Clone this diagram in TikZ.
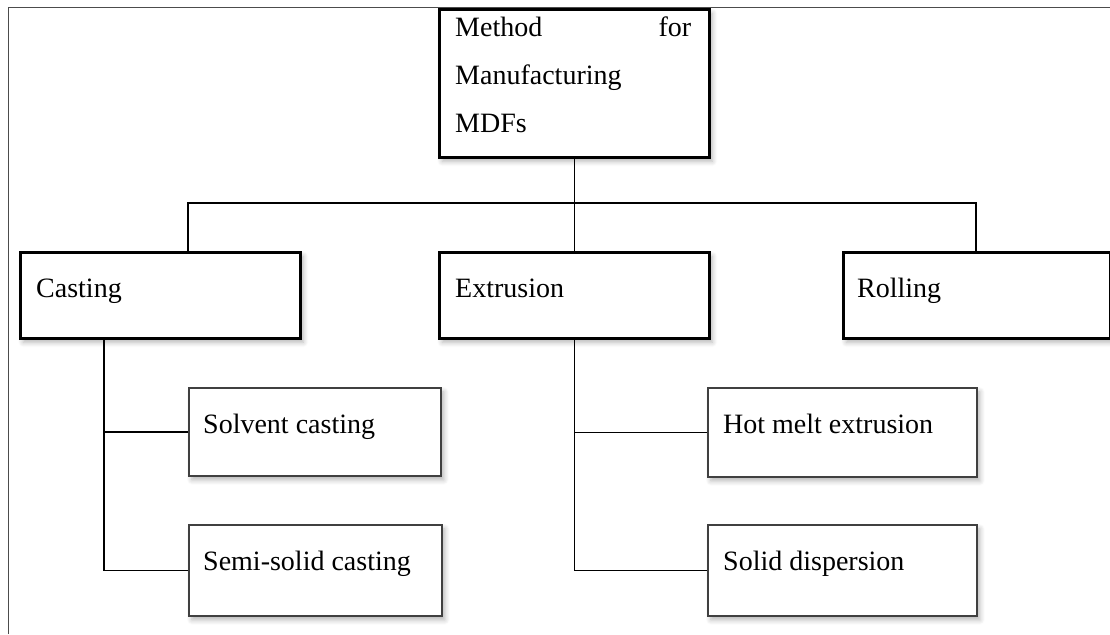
\documentclass[tikz,border=0pt]{standalone}
\usepackage{fontspec}
\setmainfont{Liberation Serif}
\usetikzlibrary{positioning,shadows.blur}

\begin{document}
\begin{tikzpicture}[
      x=1pt, y=-1pt,
      shade/.style={blur shadow={shadow xshift=3pt,shadow yshift=-4pt,shadow blur radius=5pt,shadow blur steps=6,shadow opacity=30}},
      mainbox/.style={draw=black,line width=2.6pt,fill=white,inner sep=0pt,anchor=north west,minimum height=86pt,minimum width=#1,shade},
      subbox/.style={draw=black!75,line width=1.6pt,fill=white,inner sep=0pt,anchor=north west,minimum width=#1,shade},
      txt/.style={font=\fontsize{28}{48}\selectfont,inner sep=0pt,anchor=base west},
      link/.style={line width=1.4pt,black},
    ]
    \useasboundingbox (0,0) rectangle (1110,634);
    \draw[black!70,line width=1.8pt] (8.5,634) -- (8.5,7.5) -- (1110,7.5);

    \node[mainbox=270pt,minimum height=148pt] (mdf) at (438,8) {};
    \node[txt,text width=236pt,align=left] (mdftxt) at ([xshift=17pt,yshift=-29pt]mdf.north west)
      {Method\hfill for\\Manufacturing\\MDFs};

    \node[mainbox=280pt] (casting) at (19,251) {};
    \node[mainbox=270pt] (extrusion) at (438,251) {};
    \node[mainbox=267pt] (rolling) at (842,251) {};
    \node[txt] (castingtxt) at ([xshift=17pt,yshift=-46pt]casting.north west) {Casting};
    \node[txt] (extrusiontxt) at ([xshift=17pt,yshift=-46pt]extrusion.north west) {Extrusion};
    \node[txt] (rollingtxt) at ([xshift=15pt,yshift=-46pt]rolling.north west) {Rolling};

    \node[subbox=252pt,minimum height=88pt] (solvent) at (188,387) {};
    \node[subbox=253pt,minimum height=91pt] (semisolid) at (188,524) {};
    \node[subbox=269pt,minimum height=89pt] (hotmelt) at (707,387) {};
    \node[subbox=269pt,minimum height=91pt] (soliddisp) at (707,524) {};
    \node[txt] (solventtxt) at ([xshift=15pt,yshift=-46pt]solvent.north west) {Solvent casting};
    \node[txt] (semisolidtxt) at ([xshift=15pt,yshift=-46pt]semisolid.north west) {Semi-solid casting};
    \node[txt] (hotmelttxt) at ([xshift=16pt,yshift=-46pt]hotmelt.north west) {Hot melt extrusion};
    \node[txt] (soliddisptxt) at ([xshift=16pt,yshift=-46pt]soliddisp.north west) {Solid dispersion};

    % tree lines
    \coordinate (busl) at (188,203);
    \coordinate (busr) at (976,203);
    \coordinate (castleg) at (104,337);
    \draw[link] (mdf.south) -- (extrusion.north);
    \draw[link] (busl |- casting.north) -- (busl) -- (busr) -- (busr |- rolling.north);
    \draw[link] (castleg) |- (semisolid.west);
    \draw[link] (solvent.west) -- (solvent.west -| castleg);
    \draw[link] (extrusion.south) |- (soliddisp.west);
    \draw[link] (hotmelt.west) -- (hotmelt.west -| extrusion.south);
  \end{tikzpicture}
\end{document}
